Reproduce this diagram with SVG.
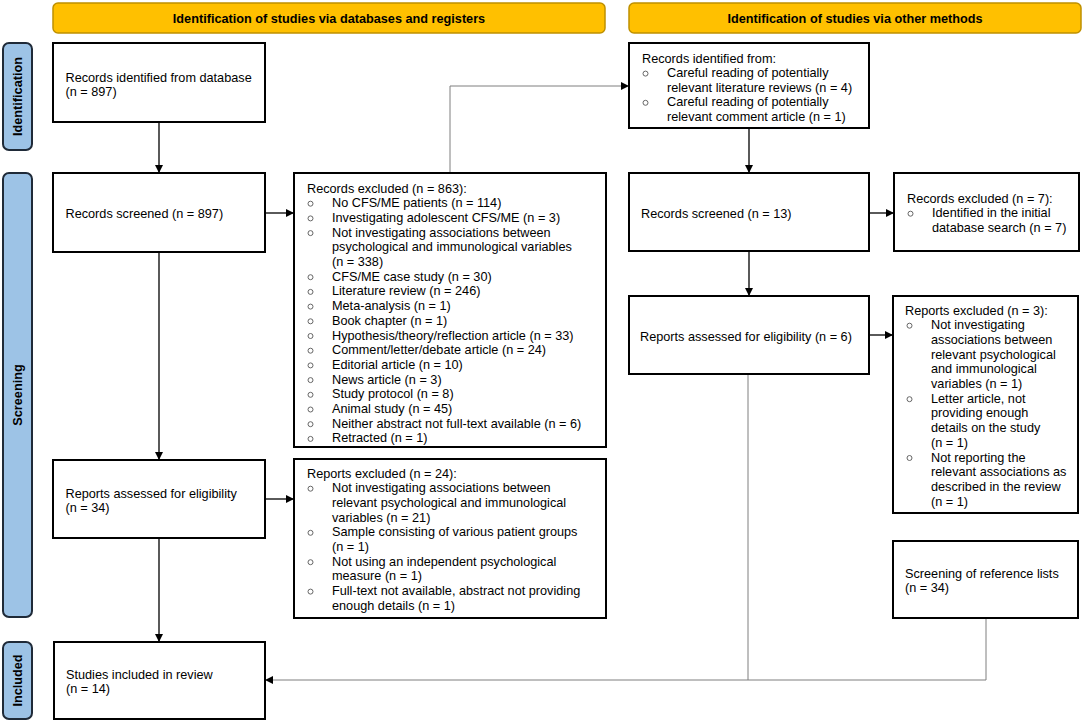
<svg xmlns="http://www.w3.org/2000/svg" width="1084" height="722" viewBox="0 0 1084 722">
<defs>
<style>
text{font-family:"Liberation Sans",Arial,sans-serif;font-size:12.7px;fill:#000}
.hd{font-weight:bold;text-anchor:middle}
.lb{font-weight:bold;text-anchor:middle}
.hdr{fill:#FFC000;stroke:#BF9000;stroke-width:1.5}
.side{fill:#9DC3E6;stroke:#1F2A38;stroke-width:2}
.box{fill:#fff;stroke:#000;stroke-width:2}
.b{fill:none;stroke:#666;stroke-width:1}
.c{fill:none;stroke:#000;stroke-width:1.3}
.g{fill:none;stroke:#7F7F7F;stroke-width:1}
</style>
<marker id="ah" viewBox="0 0 10 10" refX="10" refY="5" markerWidth="8" markerHeight="8" markerUnits="userSpaceOnUse" orient="auto">
<path d="M0,0 L10,5 L0,10 z" fill="#000"/>
</marker>
</defs>
<rect width="1084" height="722" fill="#fff"/>

<g id="header-db"><rect class="hdr" x="53" y="3" width="552" height="30" rx="5"/><text class="hd" x="329" y="22.5">Identification of studies via databases and registers</text></g>
<g id="header-other"><rect class="hdr" x="629" y="3" width="452" height="30" rx="5"/><text class="hd" x="855" y="22.5">Identification of studies via other methods</text></g>

<g id="label-identification"><rect class="side" x="3" y="43" width="29" height="107" rx="6"/><text class="lb" transform="translate(22,96.5) rotate(-90)">Identification</text></g>
<g id="label-screening"><rect class="side" x="3" y="173" width="29" height="444" rx="6"/><text class="lb" transform="translate(22,395) rotate(-90)">Screening</text></g>
<g id="label-included"><rect class="side" x="3" y="642" width="29" height="77" rx="6"/><text class="lb" transform="translate(22,680.5) rotate(-90)">Included</text></g>

<g id="connectors">
<line class="c" x1="159" y1="122" x2="159" y2="173" marker-end="url(#ah)"/>
<line class="c" x1="159" y1="252" x2="159" y2="460" marker-end="url(#ah)"/>
<line class="c" x1="265" y1="213" x2="294" y2="213" marker-end="url(#ah)"/>
<line class="c" x1="159" y1="538" x2="159" y2="642" marker-end="url(#ah)"/>
<line class="c" x1="265" y1="499" x2="294" y2="499" marker-end="url(#ah)"/>
<polyline class="g" points="450,173 450,86 629,86" marker-end="url(#ah)"/>
<line class="c" x1="749" y1="128" x2="749" y2="173" marker-end="url(#ah)"/>
<line class="c" x1="869" y1="213" x2="894" y2="213" marker-end="url(#ah)"/>
<line class="c" x1="749" y1="251" x2="749" y2="296" marker-end="url(#ah)"/>
<line class="c" x1="869" y1="335" x2="893" y2="335" marker-end="url(#ah)"/>
<line class="g" x1="748" y1="374" x2="748" y2="680"/>
<polyline class="g" points="986,618 986,680 265,680" marker-end="url(#ah)"/>
</g>

<g id="records-identified-db"><rect class="box" x="53" y="43" width="212" height="79"/>
<text x="65.5" y="81.5">Records identified from database</text><text x="65.5" y="96">(n = 897)</text></g>

<g id="records-screened-db"><rect class="box" x="53" y="173" width="212" height="79"/>
<text x="65.5" y="217.5">Records screened (n = 897)</text></g>

<g id="reports-assessed-db"><rect class="box" x="53" y="460" width="212" height="78"/>
<text x="65.5" y="497.5">Reports assessed for eligibility</text><text x="65.5" y="512.2">(n = 34)</text></g>

<g id="studies-included"><rect class="box" x="54" y="642" width="211" height="77"/>
<text x="66" y="678.5">Studies included in review</text><text x="66" y="693.2">(n = 14)</text></g>

<g id="records-excluded-db"><rect class="box" x="294" y="173" width="312" height="274"/>
<text x="307" y="192.5">Records excluded (n = 863):</text>
<circle class="b" cx="310.5" cy="203.7" r="2.5"/><text x="332" y="207.2">No CFS/ME patients (n = 114)</text>
<circle class="b" cx="310.5" cy="218.4" r="2.5"/><text x="332" y="221.9">Investigating adolescent CFS/ME (n = 3)</text>
<circle class="b" cx="310.5" cy="233.1" r="2.5"/><text x="332" y="236.6">Not investigating associations between</text>
<text x="332" y="251.3">psychological and immunological variables</text>
<text x="332" y="266">(n = 338)</text>
<circle class="b" cx="310.5" cy="277.2" r="2.5"/><text x="332" y="280.7">CFS/ME case study (n = 30)</text>
<circle class="b" cx="310.5" cy="291.9" r="2.5"/><text x="332" y="295.4">Literature review (n = 246)</text>
<circle class="b" cx="310.5" cy="306.6" r="2.5"/><text x="332" y="310.1">Meta-analysis (n = 1)</text>
<circle class="b" cx="310.5" cy="321.3" r="2.5"/><text x="332" y="324.8">Book chapter (n = 1)</text>
<circle class="b" cx="310.5" cy="336" r="2.5"/><text x="332" y="339.5">Hypothesis/theory/reflection article (n = 33)</text>
<circle class="b" cx="310.5" cy="350.7" r="2.5"/><text x="332" y="354.2">Comment/letter/debate article (n = 24)</text>
<circle class="b" cx="310.5" cy="365.4" r="2.5"/><text x="332" y="368.9">Editorial article (n = 10)</text>
<circle class="b" cx="310.5" cy="380.1" r="2.5"/><text x="332" y="383.6">News article (n = 3)</text>
<circle class="b" cx="310.5" cy="394.8" r="2.5"/><text x="332" y="398.3">Study protocol (n = 8)</text>
<circle class="b" cx="310.5" cy="409.5" r="2.5"/><text x="332" y="413">Animal study (n = 45)</text>
<circle class="b" cx="310.5" cy="424.2" r="2.5"/><text x="332" y="427.7">Neither abstract not full-text available (n = 6)</text>
<circle class="b" cx="310.5" cy="438.9" r="2.5"/><text x="332" y="442.4">Retracted (n = 1)</text>
</g>

<g id="reports-excluded-db"><rect class="box" x="294" y="459" width="312" height="159"/>
<text x="307" y="477.5">Reports excluded (n = 24):</text>
<circle class="b" cx="310.5" cy="488.7" r="2.5"/><text x="332" y="492.2">Not investigating associations between</text>
<text x="332" y="506.9">relevant psychological and immunological</text>
<text x="332" y="521.6">variables (n = 21)</text>
<circle class="b" cx="310.5" cy="532.8" r="2.5"/><text x="332" y="536.3">Sample consisting of various patient groups</text>
<text x="332" y="551">(n = 1)</text>
<circle class="b" cx="310.5" cy="562.2" r="2.5"/><text x="332" y="565.7">Not using an independent psychological</text>
<text x="332" y="580.4">measure (n = 1)</text>
<circle class="b" cx="310.5" cy="591.6" r="2.5"/><text x="332" y="595.1">Full-text not available, abstract not providing</text>
<text x="332" y="609.8">enough details (n = 1)</text>
</g>

<g id="records-identified-other"><rect class="box" x="629" y="43" width="240" height="85"/>
<text x="642" y="62.5">Records identified from:</text>
<circle class="b" cx="645.5" cy="73.6" r="2.5"/><text x="667" y="77.1">Careful reading of potentially</text>
<text x="667" y="91.7">relevant literature reviews (n = 4)</text>
<circle class="b" cx="645.5" cy="102.8" r="2.5"/><text x="667" y="106.3">Careful reading of potentially</text>
<text x="667" y="120.9">relevant comment article (n = 1)</text>
</g>

<g id="records-screened-other"><rect class="box" x="629" y="173" width="240" height="78"/>
<text x="641" y="217.5">Records screened (n = 13)</text></g>

<g id="reports-assessed-other"><rect class="box" x="629" y="296" width="240" height="78"/>
<text x="640" y="340.5">Reports assessed for eligibility (n = 6)</text></g>

<g id="records-excluded-other"><rect class="box" x="894" y="173" width="185" height="78"/>
<text x="907" y="202.5">Records excluded (n = 7):</text>
<circle class="b" cx="910.5" cy="213.7" r="2.5"/><text x="932" y="217.2">Identified in the initial</text>
<text x="932" y="231.9">database search (n = 7)</text>
</g>

<g id="reports-excluded-other"><rect class="box" x="893" y="296" width="185" height="217"/>
<text x="905" y="314.5">Reports excluded (n = 3):</text>
<circle class="b" cx="909.5" cy="325.7" r="2.5"/><text x="931" y="329.2">Not investigating</text>
<text x="931" y="343.9">associations between</text>
<text x="931" y="358.6">relevant psychological</text>
<text x="931" y="373.3">and immunological</text>
<text x="931" y="388">variables (n = 1)</text>
<circle class="b" cx="909.5" cy="399.2" r="2.5"/><text x="931" y="402.7">Letter article, not</text>
<text x="931" y="417.4">providing enough</text>
<text x="931" y="432.1">details on the study</text>
<text x="931" y="446.8">(n = 1)</text>
<circle class="b" cx="909.5" cy="458" r="2.5"/><text x="931" y="461.5">Not reporting the</text>
<text x="931" y="476.2">relevant associations as</text>
<text x="931" y="490.9">described in the review</text>
<text x="931" y="505.6">(n = 1)</text>
</g>

<g id="reference-lists"><rect class="box" x="893" y="541" width="185" height="77"/>
<text x="905" y="577.5">Screening of reference lists</text><text x="905" y="592">(n = 34)</text></g>
</svg>
